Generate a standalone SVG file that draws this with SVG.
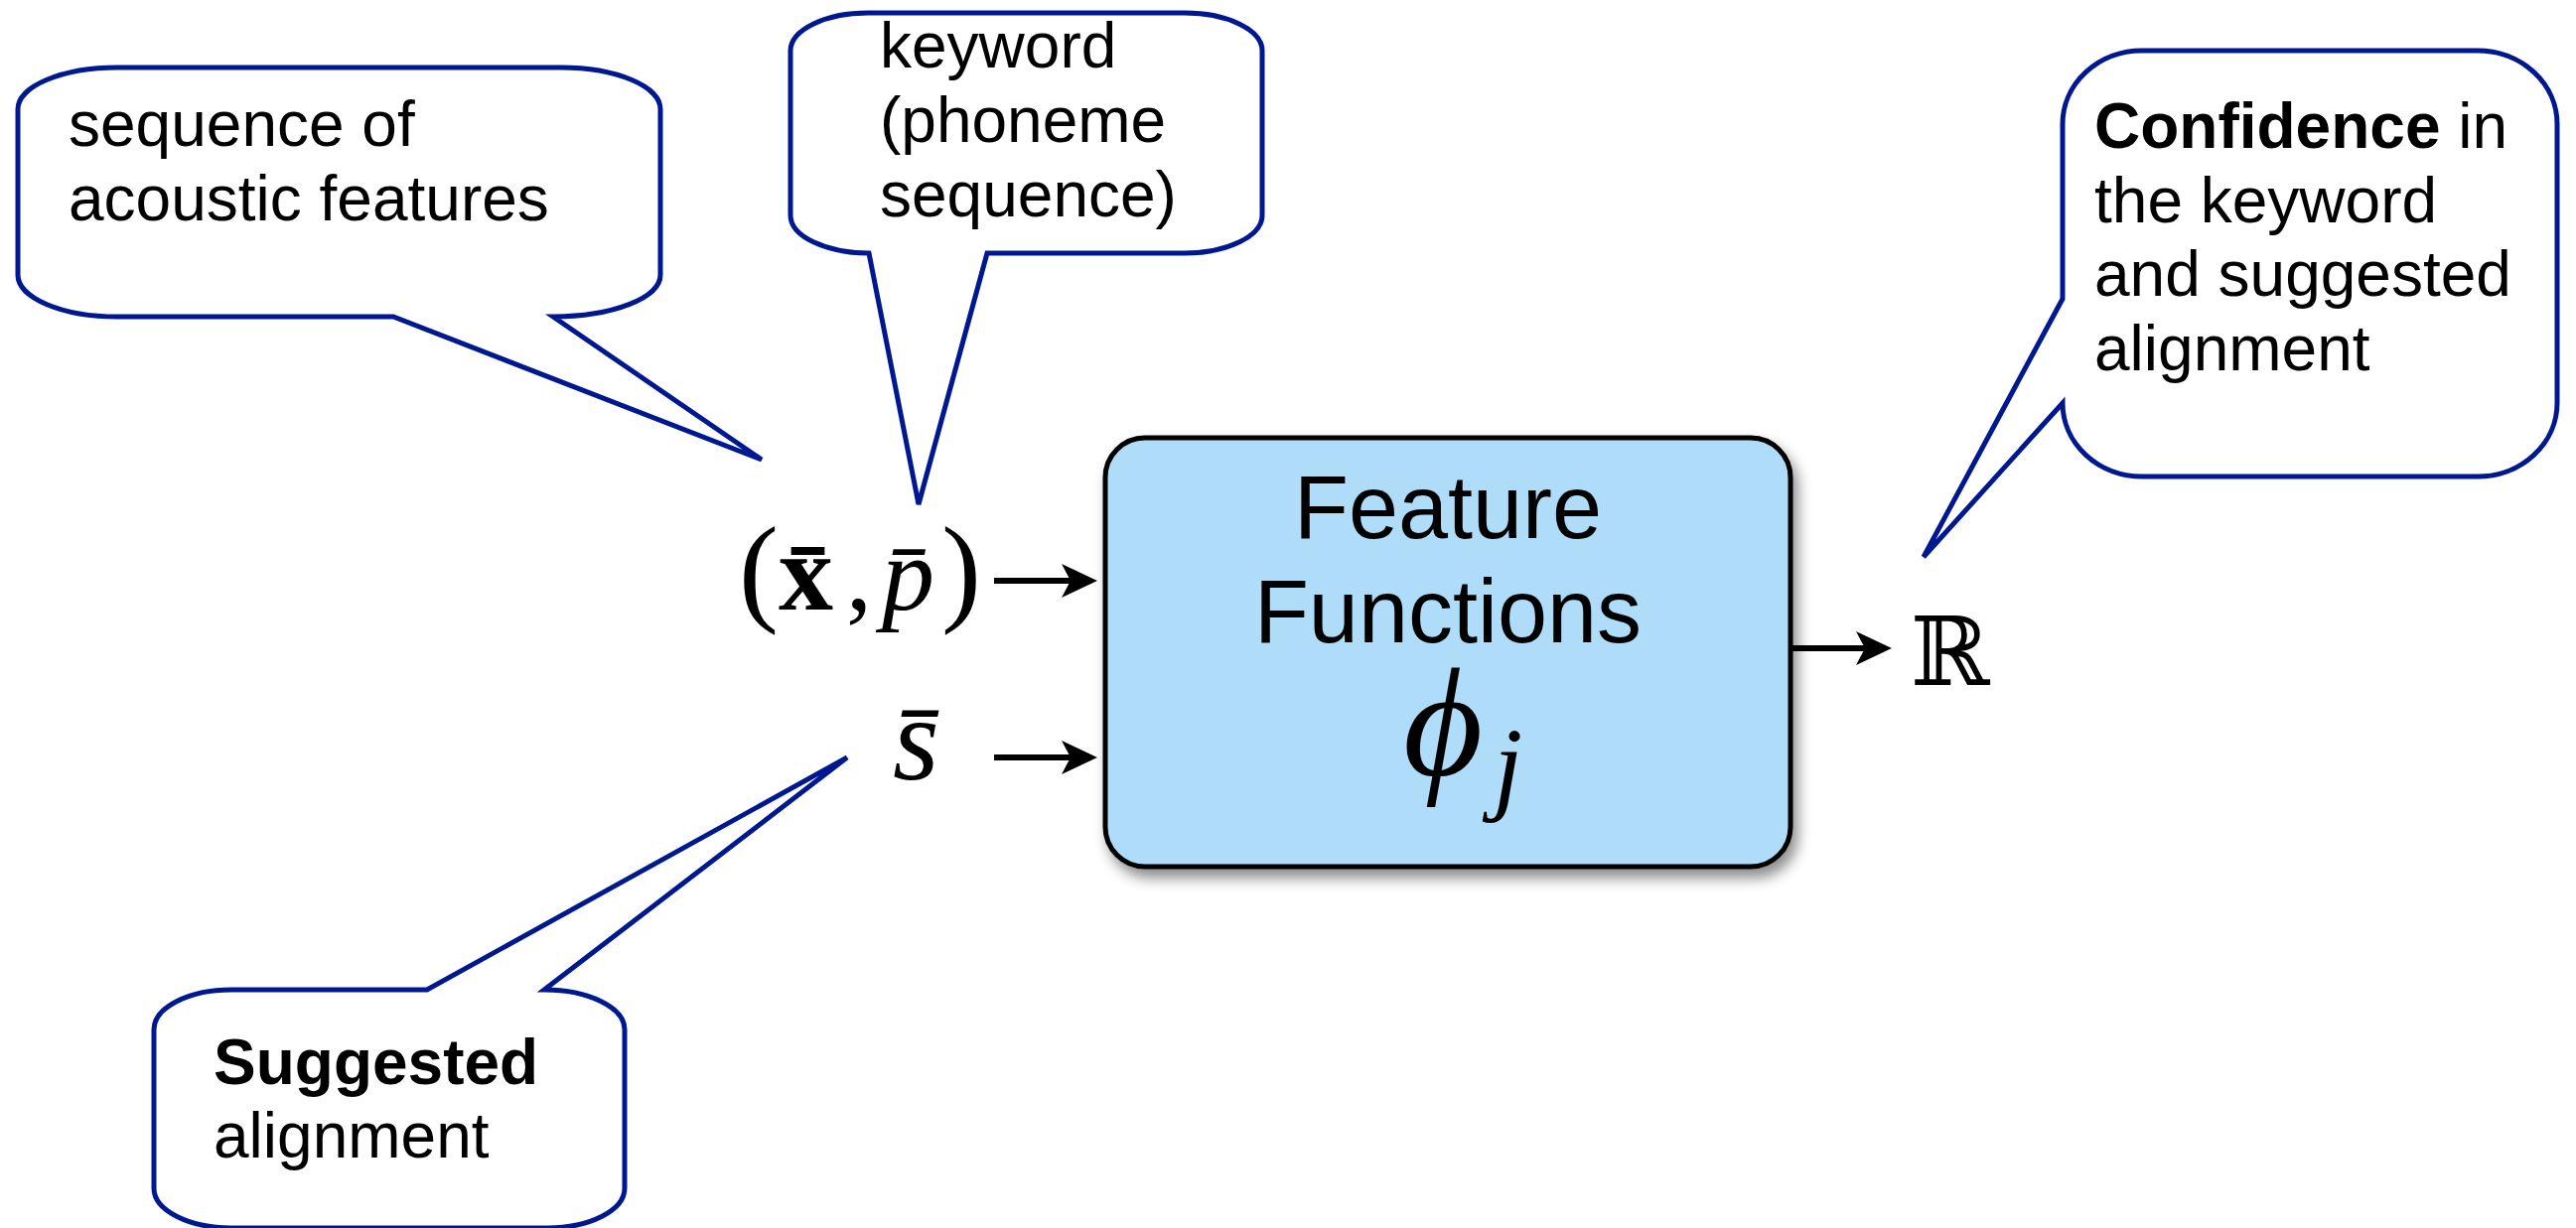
<svg xmlns="http://www.w3.org/2000/svg" width="2594" height="1237" viewBox="0 0 2594 1237">
<style>
.bubble{fill:#ffffff;stroke:#00188f;stroke-width:5;stroke-linejoin:miter}
.lbl{font-family:"Liberation Sans",Arial,sans-serif;font-size:64px;fill:#000}
.b{font-weight:bold}
.box{fill:#afdcf8;stroke:#000;stroke-width:5}
.big{font-family:"Liberation Sans",Arial,sans-serif;font-size:90px;fill:#000;text-anchor:middle}
.math{font-family:"Liberation Serif","DejaVu Serif",serif;fill:#000}
.arrow{stroke:#000;stroke-width:6;fill:none;marker-end:url(#ah)}
</style>
<defs>
<marker id="ah" viewBox="0 0 36 34" refX="16" refY="17" markerWidth="36" markerHeight="34" markerUnits="userSpaceOnUse" orient="auto">
<path d="M0,0 L36,17 L0,34 L9,17 Z" fill="#000"/>
</marker>
<filter id="shadow" x="-10%" y="-10%" width="125%" height="130%">
<feDropShadow dx="5" dy="9" stdDeviation="7" flood-color="#000" flood-opacity="0.45"/>
</filter>
</defs>
<rect width="2594" height="1237" fill="#fff"/>

<g id="bubble-acoustic">
<path class="bubble" d="M18,110 A100 42 0 0 1 118,68 H565 A100 42 0 0 1 665,110 V277 A108 42 0 0 1 557,319 L767,463 L396,319 H118 A100 42 0 0 1 18,277 Z"/>
<text class="lbl" x="69" y="147">sequence of</text>
<text class="lbl" x="69" y="222">acoustic features</text>
</g>

<g id="bubble-keyword">
<path class="bubble" d="M796,51 A78 38 0 0 1 874,13 H1193 A78 38 0 0 1 1271,51 V217 A78 38 0 0 1 1193,255 H994 L925,508 L875,255 A79 38 0 0 1 796,217 Z"/>
<text class="lbl" x="886" y="68">keyword</text>
<text class="lbl" x="886" y="143">(phoneme</text>
<text class="lbl" x="886" y="218">sequence)</text>
</g>

<g id="bubble-confidence">
<path class="bubble" d="M2077,125 A80 74 0 0 1 2157,51 H2495 A80 74 0 0 1 2575,125 V406 A80 74 0 0 1 2495,480 H2157 A80 74 0 0 1 2077,406 L1937,561 L2077,301 Z"/>
<text class="lbl" x="2109" y="149"><tspan class="b">Confidence</tspan> in</text>
<text class="lbl" x="2109" y="224">the keyword</text>
<text class="lbl" x="2109" y="298">and suggested</text>
<text class="lbl" x="2109" y="373">alignment</text>
</g>

<g id="bubble-suggested">
<path class="bubble" d="M155,1037 A78 40 0 0 1 233,997 H430 L853,763 L548,997 A81 40 0 0 1 629,1037 V1197 A78 40 0 0 1 551,1237 H233 A78 40 0 0 1 155,1197 Z"/>
<text class="lbl" x="215" y="1092"><tspan class="b">Suggested</tspan></text>
<text class="lbl" x="215" y="1166">alignment</text>
</g>

<g id="input-xp">
<text class="math" y="614"><tspan x="744" font-size="120">(</tspan><tspan x="784" font-size="110" font-weight="bold">x̄</tspan><tspan x="852" font-size="104">,</tspan><tspan x="888" font-size="106" font-style="italic">p̄</tspan><tspan x="948" font-size="120">)</tspan></text>
</g>

<g id="input-s">
<text class="math" x="899" y="785" font-size="120" font-style="italic">s̄</text>
</g>

<g id="feature-functions">
<rect class="box" x="1113" y="441" width="690" height="432" rx="40" ry="40" filter="url(#shadow)"/>
<text class="big" x="1458" y="542">Feature</text>
<text class="big" x="1458" y="647">Functions</text>
<text class="math" y="780" font-style="italic"><tspan x="1413" font-size="155">ϕ</tspan><tspan x="1504" y="806" font-size="105">j</tspan></text>
</g>

<g id="output-R">
<text x="1924" y="690" font-family="DejaVu Serif,DejaVu Sans,serif" font-size="96" fill="#000">ℝ</text>
</g>

<g id="connectors">
<line class="arrow" x1="1001" y1="585" x2="1085" y2="585"/>
<line class="arrow" x1="1001" y1="763" x2="1085" y2="763"/>
<line class="arrow" x1="1803" y1="653" x2="1885" y2="653"/>
</g>
</svg>
